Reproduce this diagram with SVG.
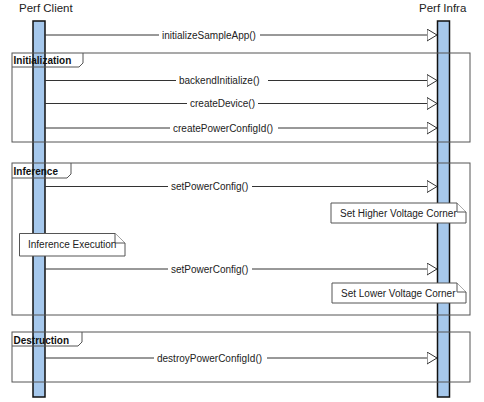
<svg xmlns="http://www.w3.org/2000/svg" width="484" height="402" viewBox="0 0 484 402">
<defs>
<style>
.title{font-family:"Liberation Sans",Arial,sans-serif;font-size:11.5px;fill:#222}
.msg{font-family:"Liberation Sans",Arial,sans-serif;font-size:10px;fill:#222}
.lbl{font-family:"Liberation Sans",Arial,sans-serif;font-size:10px;font-weight:bold;fill:#111}
.bar{fill:#a6c8ec;stroke:#111;stroke-width:1.5}
.frame{fill:none;stroke:#555;stroke-width:1}
.line{stroke:#333;stroke-width:1;fill:none}
.note{fill:#fff;stroke:#555;stroke-width:1}
.bg{fill:#fff}
</style>
<marker id="open" markerWidth="12" markerHeight="14" refX="10.5" refY="6.5" orient="auto" markerUnits="userSpaceOnUse">
<path d="M0.5,0.5 L10.5,6.5 L0.5,12.5 Z" fill="#fff" stroke="#333" stroke-width="1"/>
</marker>
</defs>
<rect width="484" height="402" fill="#fff"/>

<g id="perf-client">
<text class="title" x="19" y="12">Perf Client</text>
<rect class="bar" x="33" y="21" width="12" height="376"/>
</g>
<g id="perf-infra">
<text class="title" x="419" y="12">Perf Infra</text>
<rect class="bar" x="437.5" y="21" width="12" height="376"/>
</g>

<g id="frame-initialization">
<rect class="frame" x="12" y="53" width="458" height="89"/>
<path class="frame" d="M12,67 H79 L83,63 V53"/>
<text class="lbl" x="13.5" y="64">Initialization</text>
</g>
<g id="frame-inference">
<rect class="frame" x="12" y="163" width="458" height="152"/>
<path class="frame" d="M12,178 H67 L71,174 V163"/>
<text class="lbl" x="13.5" y="175">Inference</text>
</g>
<g id="frame-destruction">
<rect class="frame" x="12" y="332" width="458" height="50"/>
<path class="frame" d="M12,346 H78 L82,342 V332"/>
<text class="lbl" x="13.5" y="344">Destruction</text>
</g>

<g id="connectors">
<line class="line" x1="45" y1="35" x2="437" y2="35" marker-end="url(#open)"/>
<line class="line" x1="45" y1="80.5" x2="437" y2="80.5" marker-end="url(#open)"/>
<line class="line" x1="45" y1="103.5" x2="437" y2="103.5" marker-end="url(#open)"/>
<line class="line" x1="45" y1="128" x2="437" y2="128" marker-end="url(#open)"/>
<line class="line" x1="45" y1="186.5" x2="437" y2="186.5" marker-end="url(#open)"/>
<line class="line" x1="45" y1="269" x2="437" y2="269" marker-end="url(#open)"/>
<line class="line" x1="45" y1="358" x2="437" y2="358" marker-end="url(#open)"/>
<rect class="bg" x="159" y="29" width="101" height="12"/>
<text class="msg" x="162" y="38.5">initializeSampleApp()</text>
<rect class="bg" x="176" y="74.5" width="92" height="12"/>
<text class="msg" x="179" y="84">backendInitialize()</text>
<rect class="bg" x="187" y="97.5" width="71" height="12"/>
<text class="msg" x="190" y="107">createDevice()</text>
<rect class="bg" x="170" y="122" width="108" height="12"/>
<text class="msg" x="173" y="131.5">createPowerConfigId()</text>
<rect class="bg" x="168" y="180.5" width="84" height="12"/>
<text class="msg" x="171" y="190">setPowerConfig()</text>
<rect class="bg" x="168" y="263" width="84" height="12"/>
<text class="msg" x="171" y="272.5">setPowerConfig()</text>
<rect class="bg" x="154" y="352" width="113" height="12"/>
<text class="msg" x="157" y="361.5">destroyPowerConfigId()</text>
</g>

<g id="note-higher">
<path class="note" d="M331,203 H457 L466,212 V223 H331 Z"/>
<path class="note" d="M457,203 V212 H466" fill="none"/>
<text class="msg" x="340" y="216.5">Set Higher Voltage Corner</text>
</g>
<g id="note-inference-execution">
<path class="note" d="M19.5,233.5 H115 L125,243 V256 H19.5 Z"/>
<path class="note" d="M115,233.5 V243 H125" fill="none"/>
<text class="msg" x="28" y="248">Inference Execution</text>
</g>
<g id="note-lower">
<path class="note" d="M332,283 H457 L466,292 V303 H332 Z"/>
<path class="note" d="M457,283 V292 H466" fill="none"/>
<text class="msg" x="341" y="296.5">Set Lower Voltage Corner</text>
</g>
</svg>
